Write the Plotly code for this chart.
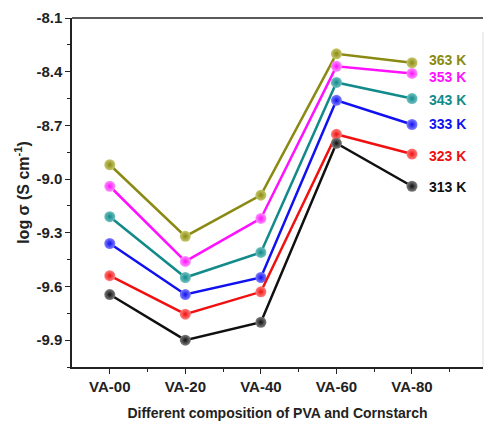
import plotly.graph_objects as go

categories = ["VA-00", "VA-20", "VA-40", "VA-60", "VA-80"]
temps = ["363 K", "353 K", "343 K", "333 K", "323 K", "313 K"]
v363 = [-8.92, -9.32, -9.09, -8.30, -8.35]
v353 = [-9.04, -9.46, -9.22, -8.37, -8.41]
v343 = [-9.21, -9.55, -9.41, -8.46, -8.55]
v333 = [-9.36, -9.645, -9.55, -8.56, -8.695]
v323 = [-9.54, -9.755, -9.63, -8.75, -8.86]
v313 = [-9.645, -9.90, -9.80, -8.80, -9.04]
label_y = [-8.335, -8.43, -8.56, -8.69, -8.87, -9.045]

series = [v363, v353, v343, v333, v323, v313]
colors = ["#8a8a12", "#ff10ff", "#128a8a", "#1010f0", "#f01010", "#101010"]
light = ["#c8c870", "#ff90ff", "#70c0c0", "#8080ff", "#ff8080", "#808080"]

fig = go.Figure()
xs = list(range(len(categories)))
for name, vals, c, lc in zip(temps, series, colors, light):
    fig.add_trace(go.Scatter(
        x=xs, y=vals, mode="lines+markers", name=name,
        line=dict(color=c, width=2.5),
        marker=dict(size=11, color=lc, symbol="circle",
                    gradient=dict(type="radial", color=c),
                    line=dict(width=0)),
        showlegend=False))

for name, ly, c in zip(temps, label_y, colors):
    fig.add_annotation(x=4.2, y=ly, text="<b>%s</b>" % name, showarrow=False,
                       xanchor="left", yanchor="middle",
                       font=dict(family="Liberation Sans, Arial", size=14, color=c))

fig.add_shape(type="line", xref="paper", yref="paper", x0=1, x1=1, y0=0, y1=0.96,
              line=dict(color="#dddddd", width=1))

fig.update_layout(
    width=485, height=428,
    margin=dict(l=72, r=2, t=18, b=61),
    paper_bgcolor="white", plot_bgcolor="white",
    font=dict(family="Liberation Sans, Arial", color="#222222"),
    xaxis=dict(
        range=[-0.5, 4.94], tickmode="array", tickvals=xs,
        ticktext=["<b>%s</b>" % c for c in categories],
        tickfont=dict(size=15, color="#222222"),
        showline=True, linecolor="#222222", linewidth=1.5, mirror=False,
        ticks="outside", ticklen=5, tickwidth=1.2, tickcolor="#222222",
        minor=dict(tickvals=[x + 0.5 for x in xs], ticks="outside", ticklen=3,
                   tickcolor="#222222", tickwidth=1.2),
        showgrid=False, zeroline=False,
        title=dict(text="<b>Different composition of PVA and Cornstarch</b>",
                   font=dict(size=14, color="#222222"), standoff=14),
    ),
    yaxis=dict(
        range=[-10.05, -8.1], tickmode="array",
        tickvals=[-8.1, -8.4, -8.7, -9.0, -9.3, -9.6, -9.9],
        ticktext=["<b>-8.1</b>", "<b>-8.4</b>", "<b>-8.7</b>", "<b>-9.0</b>",
                  "<b>-9.3</b>", "<b>-9.6</b>", "<b>-9.9</b>"],
        tickfont=dict(size=15, color="#222222"),
        showline=True, linecolor="#222222", linewidth=1.5,
        ticks="outside", ticklen=5, tickwidth=1.2, tickcolor="#222222",
        minor=dict(tickvals=[-8.25, -8.55, -8.85, -9.15, -9.45, -9.75, -10.05],
                   ticks="outside", ticklen=3, tickcolor="#222222", tickwidth=1.2),
        showgrid=False, zeroline=False,
        title=dict(text="<b>log σ (S cm<sup>-1</sup>)</b>",
                   font=dict(size=16, color="#222222"), standoff=3),
    ),
)
fig.add_shape(type="line", xref="paper", yref="paper", x0=0, x1=1, y0=1, y1=1,
              line=dict(color="#222222", width=1.5))

fig.write_html("out.html")
